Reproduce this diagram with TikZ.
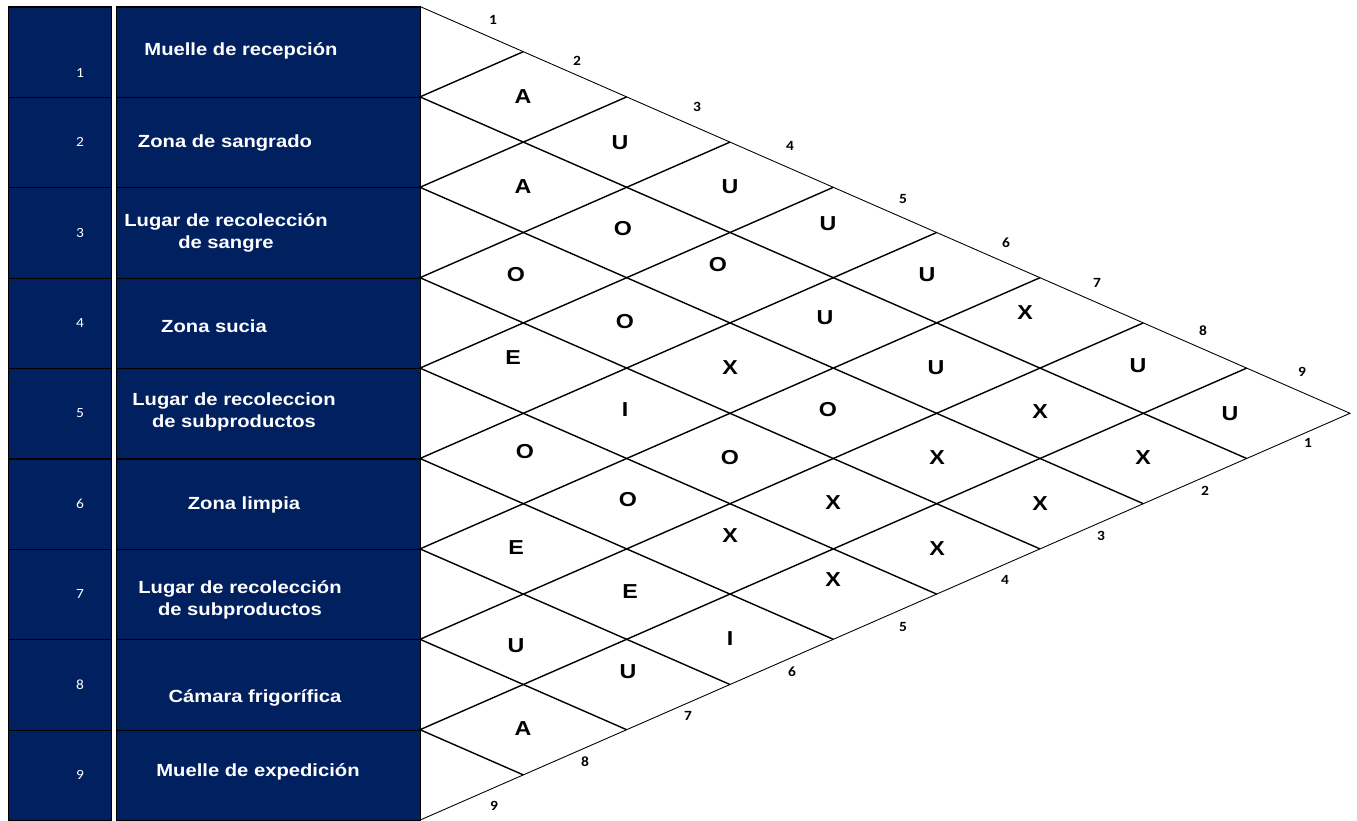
\documentclass[tikz,border=0pt]{standalone}
\usepackage{fontspec}
\setmainfont{Liberation Sans}[FakeStretch=1.15]
\newfontfamily\numfont{Carlito}[FakeStretch=1.1]
\definecolor{chartnavy}{RGB}{0,32,96}
\usetikzlibrary{calc}

\begin{document}
\begin{tikzpicture}[x=0.02cm, y=-0.02cm,
    numbox/.style={rectangle, draw=black, line width=0.6pt, fill=chartnavy, inner sep=0pt,
                   minimum width=2.06cm, minimum height=1.808cm, anchor=north west},
    namebox/.style={numbox, minimum width=6.08cm},
    rowname/.style={font=\fontsize{10}{12.5}\selectfont\bfseries, text=white, align=center},
    rownum/.style={font=\numfont\fontsize{8}{9}\selectfont, text=white},
    rel/.style={font=\fontsize{11.5}{13}\selectfont\bfseries},
    edgenum/.style={font=\numfont\fontsize{8}{9}\selectfont\bfseries},
    outline/.style={line width=0.5pt},
    gridline/.style={line width=0.8pt}
  ]
  \useasboundingbox (0,0) rectangle (1357,821);

  % Left columns: numbers and areas
  \foreach \i in {1,...,9}{
    \node[numbox]  (nb\i) at (8,   {6.5+90.4*(\i-1)}) {};
    \node[namebox] (ab\i) at (116, {6.5+90.4*(\i-1)}) {};
  }
  \node[rownum] (n1) at (80, 73) {1};
  \foreach \i in {2,...,9}
    \node[rownum] (n\i) at (80, {6.5+90.4*(\i-0.5)}) {\i};

  \node[rowname] (a1) at (241, 51)  {Muelle de recepción};
  \node[rowname] (a2) at (225, 143) {Zona de sangrado};
  \node[rowname] (a3) at (226, 233) {Lugar de recolección\\de sangre};
  \node[rowname] (a4) at (214, 326) {Zona sucia};
  \node[rowname] (a5) at (234, 412) {Lugar de recoleccion\\de subproductos};
  \node[rowname] (a6) at (244, 505) {Zona limpia};
  \node[rowname] (a7) at (240, 600) {Lugar de recolección\\de subproductos};
  \node[rowname] (a8) at (255, 698) {Cámara frigorífica};
  \node[rowname] (a9) at (258, 772) {Muelle de expedición};

  % Relationship triangle
  \coordinate (tl) at (420, 6.5);
  \coordinate (apex) at (1350, 413.3);
  \coordinate (bl) at (420, 820.1);
  \draw[outline] (tl) -- (apex) -- (bl);
  \foreach \k [evaluate=\k as \m using 9-\k] in {1,...,8}{
    \draw[gridline] ($(tl)!\k/9!(apex)$) -- ($(tl)!\k/9!(bl)$) -- ($(bl)!\m/9!(apex)$);
  }

  % Relationship codes
  \foreach \c/\x/\y [count=\i] in {A/523/97, U/620/143, A/523/187, U/730/187, O/623/229,
      U/828/224, O/516/275, O/718/265, U/927/275, O/625/322, U/825/318, X/1025/313,
      E/513/358, X/730/368, U/936/368, U/1138/366, I/625/410, O/828/410, X/1040/412,
      U/1230/414, O/525/452, O/730/458, X/937/458, X/1143/458, O/628/500, X/833/503,
      X/1040/504, E/516/548, X/730/536, X/937/549, E/630/592, X/833/580, U/516/646,
      I/730/639, U/628/672, A/523/729}
    \node[rel] (r\i) at (\x, \y) {\c};

  % Edge numbering
  \foreach \n/\x/\y in {1/493/20, 2/577/61, 3/697/107, 4/790/146, 5/903/199,
      6/1006/243, 7/1097/283, 8/1203/331, 9/1302/372}
    \node[edgenum] (t\n) at (\x, \y) {\n};
  \foreach \n/\x/\y in {1/1308/443, 2/1205/491, 3/1101/536, 4/1005/580, 5/903/627,
      6/792/672, 7/688/716, 8/585/762, 9/494/806}
    \node[edgenum] (b\n) at (\x, \y) {\n};
\end{tikzpicture}
\end{document}
